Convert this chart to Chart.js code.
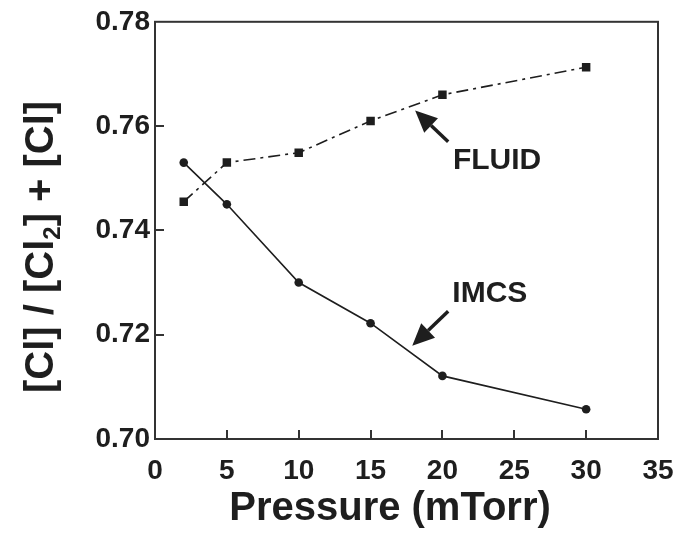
<!DOCTYPE html>
<html>
<head>
<meta charset="utf-8">
<script src="https://cdn.jsdelivr.net/npm/chart.js@4/dist/chart.umd.min.js"></script>
<style>
  html, body { margin: 0; padding: 0; background: #fff; }
  #wrap { width: 693px; height: 535px; }
</style>
</head>
<body>
<div id="wrap"><canvas id="chart"></canvas></div>
<script>
const pressure = [2, 5, 10, 15, 20, 30]
const imcs = [0.753, 0.745, 0.730, 0.7222, 0.7121, 0.7057]
const fluid = [0.7455, 0.753, 0.7549, 0.761, 0.766, 0.7713]
const xTicks = [0, 5, 10, 15, 20, 25, 30, 35]
const yTicks = [0.70, 0.72, 0.74, 0.76, 0.78]

// labels with arrows: text position, arrow tail, arrow tip
const notes = [
  { text: 'FLUID', at: [23.8, 0.7533], tail: [20.4, 0.7570], tip: [18.1, 0.7630] },
  { text: 'IMCS', at: [23.3, 0.7278], tail: [20.4, 0.7245], tip: [17.9, 0.7179] }
]

const ink = '#1e1e1e'
const fontName = '"Liberation Sans", Arial, sans-serif'

function toPoints(xs, ys) {
  return xs.map(function(x, i) {
    return { x: x, y: ys[i] }
  })
}

function drawArrow(ctx, x1, y1, x2, y2) {
  const ang = Math.atan2(y2 - y1, x2 - x1)
  const head = 22
  const half = 10
  const bx = x2 - head * Math.cos(ang)
  const by = y2 - head * Math.sin(ang)
  ctx.beginPath()
  ctx.moveTo(x1, y1)
  ctx.lineTo(bx, by)
  ctx.lineWidth = 3.5
  ctx.strokeStyle = ink
  ctx.stroke()
  ctx.beginPath()
  ctx.moveTo(x2, y2)
  ctx.lineTo(bx + half * Math.sin(ang), by - half * Math.cos(ang))
  ctx.lineTo(bx - half * Math.sin(ang), by + half * Math.cos(ang))
  ctx.closePath()
  ctx.fillStyle = ink
  ctx.fill()
}

const framePlugin = {
  id: 'frame',
  afterDraw: function(chart) {
    const ctx = chart.ctx
    const area = chart.chartArea
    const xs = chart.scales.x
    const ys = chart.scales.y
    ctx.save()

    // inward tick marks
    ctx.strokeStyle = '#333'
    ctx.lineWidth = 2
    ctx.beginPath()
    xTicks.forEach(function(v) {
      const px = Math.round(xs.getPixelForValue(v))
      if (px <= area.left + 2 || px >= area.right - 2) return
      ctx.moveTo(px, area.bottom)
      ctx.lineTo(px, area.bottom - 9)
    })
    yTicks.forEach(function(v) {
      const py = Math.round(ys.getPixelForValue(v))
      if (py <= area.top + 2 || py >= area.bottom - 2) return
      ctx.moveTo(area.left, py)
      ctx.lineTo(area.left + 9, py)
    })
    ctx.stroke()

    ctx.strokeRect(area.left, area.top, area.right - area.left, area.bottom - area.top)

    // arrows and their labels
    ctx.font = 'bold 30px ' + fontName
    ctx.textAlign = 'center'
    ctx.textBaseline = 'middle'
    notes.forEach(function(n) {
      drawArrow(ctx,
        xs.getPixelForValue(n.tail[0]), ys.getPixelForValue(n.tail[1]),
        xs.getPixelForValue(n.tip[0]), ys.getPixelForValue(n.tip[1]))
      ctx.fillStyle = ink
      ctx.fillText(n.text, xs.getPixelForValue(n.at[0]), ys.getPixelForValue(n.at[1]))
    })

    // axis titles
    ctx.font = 'bold 40px ' + fontName
    ctx.textBaseline = 'alphabetic'
    ctx.fillText('Pressure (mTorr)', 390, 520)

    ctx.translate(53, 393)
    ctx.rotate(-Math.PI / 2)
    ctx.textAlign = 'left'
    let pos = 0
    const parts = [['[Cl] / [Cl', 40, 0], ['2', 24, 7], ['] + [Cl]', 40, 0]]
    parts.forEach(function(p) {
      ctx.font = 'bold ' + p[1] + 'px ' + fontName
      ctx.fillText(p[0], pos, p[2])
      pos += ctx.measureText(p[0]).width
    })
    ctx.restore()
  }
}

const ctx = document.getElementById('chart').getContext('2d')
new Chart(ctx, {
  type: 'line',
  data: {
    datasets: [{
      label: 'IMCS',
      data: toPoints(pressure, imcs),
      borderColor: ink,
      backgroundColor: ink,
      borderWidth: 1.6,
      pointStyle: 'circle',
      pointRadius: 4.3,
      pointBorderWidth: 0,
      tension: 0
    }, {
      label: 'FLUID',
      data: toPoints(pressure, fluid),
      borderColor: ink,
      backgroundColor: ink,
      borderWidth: 1.6,
      borderDash: [12, 5, 3, 5],
      pointStyle: 'rect',
      pointRadius: 6,
      pointBorderWidth: 0,
      tension: 0
    }]
  },
  options: {
    responsive: true,
    maintainAspectRatio: false,
    animation: false,
    layout: { padding: { top: 16, right: 35, left: 0, bottom: 0 } },
    plugins: {
      legend: { display: false },
      tooltip: { enabled: false }
    },
    scales: {
      x: {
        type: 'linear',
        min: 0,
        max: 35,
        afterBuildTicks: function(scale) {
          scale.ticks = xTicks.map(function(v) { return { value: v } })
        },
        afterFit: function(scale) { scale.height = 96 },
        grid: { display: false, drawTicks: false },
        border: { display: false },
        ticks: {
          padding: 15,
          color: ink,
          maxRotation: 0,
          font: { family: fontName, size: 28, weight: 'bold' }
        }
      },
      y: {
        type: 'linear',
        min: 0.70,
        max: 0.78,
        afterBuildTicks: function(scale) {
          scale.ticks = yTicks.map(function(v) { return { value: v } })
        },
        afterFit: function(scale) { scale.width = 155 },
        grid: { display: false, drawTicks: false },
        border: { display: false },
        ticks: {
          padding: 5,
          color: ink,
          font: { family: fontName, size: 28, weight: 'bold' },
          callback: function(v) { return v.toFixed(2) }
        }
      }
    }
  },
  plugins: [framePlugin]
})
</script>
</body>
</html>
